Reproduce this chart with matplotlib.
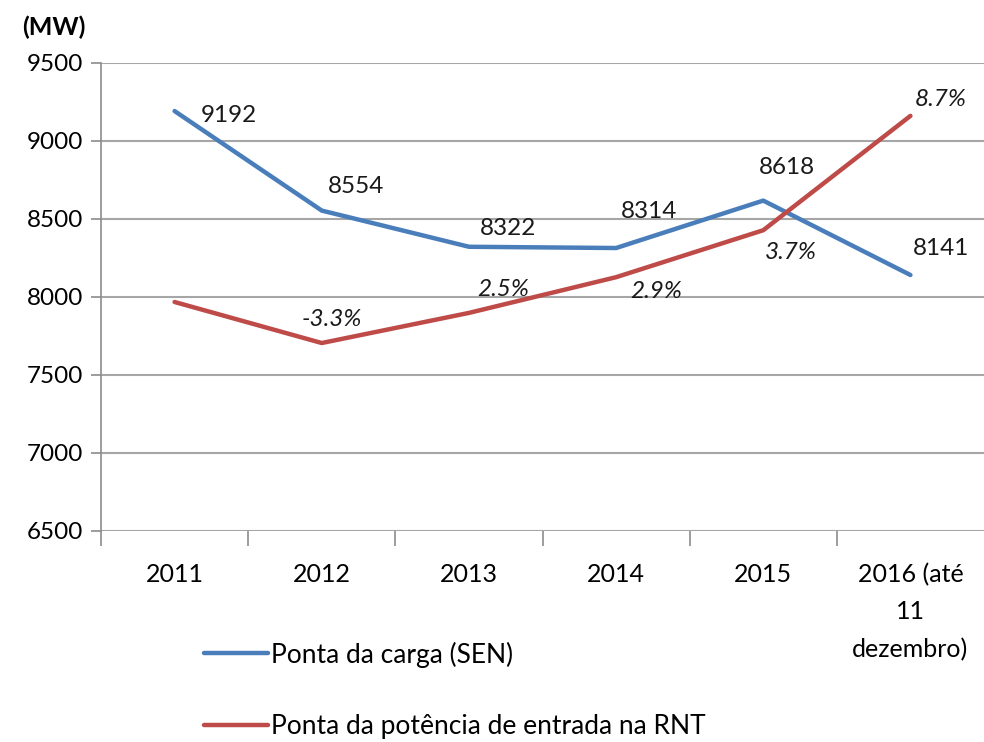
import matplotlib
matplotlib.use('Agg')
from matplotlib import pyplot as plt

plt.rcParams['font.family'] = ['Lato', 'DejaVu Sans']

anos = ['2011', '2012', '2013', '2014', '2015', '2016 (até\n11\ndezembro)']
ponta_carga = [9192, 8554, 8322, 8314, 8618, 8141]
ponta_rnt = [7968, 7705, 7898, 8127, 8428, 9161]
var_rnt = [None, '-3.3%', '2.5%', '2.9%', '3.7%', '8.7%']

azul = '#4a7ebb'
vermelho = '#be4b48'

fig = plt.figure(figsize=(9.84, 7.42), dpi=100)
ax = fig.add_axes([101 / 984, 1 - 531 / 742, 1 - 101 / 984, (531 - 63) / 742])

x = list(range(len(anos)))
ax.plot(x, ponta_carga, color=azul, lw=3.2, solid_capstyle='round', zorder=3,
        label='Ponta da carga (SEN)')
ax.plot(x, ponta_rnt, color=vermelho, lw=3.2, solid_capstyle='round', zorder=3,
        label='Ponta da potência de entrada na RNT')

# deslocamentos dos rótulos em pontos
off_carga = [(39, -3), (25, 17), (28, 13), (24, 26), (17, 24), (22, 19)]
off_rnt = [None, (7, 17), (25, 17), (29, -10), (20, -16), (22, 12)]

for i, v in enumerate(ponta_carga):
    ax.annotate(str(v), (i, v), xytext=off_carga[i], textcoords='offset points',
                ha='center', va='center', fontsize=17.5, color='#1a1a1a', zorder=4)
for i, v in enumerate(ponta_rnt):
    if var_rnt[i] is None:
        continue
    ax.annotate(var_rnt[i], (i, v), xytext=off_rnt[i], textcoords='offset points',
                ha='center', va='center', fontsize=17.5, style='italic',
                color='#1a1a1a', zorder=4)

ax.set_xlim(-0.5, len(anos) - 0.5)
ax.set_ylim(6500, 9500)
ax.set_yticks(range(6500, 9501, 500))
ax.set_xticks([i - 0.5 for i in range(len(anos))], minor=False)
ax.set_xticklabels([])
ax.set_xticks(x, minor=True)
ax.set_xticklabels(anos, minor=True, fontsize=18, linespacing=1.75, va='top')
ax.tick_params(axis='x', which='major', length=11, width=1.2, color='#8c8c8c')
ax.tick_params(axis='x', which='minor', length=0, pad=23)
ax.tick_params(axis='y', length=7, width=1.2, color='#8c8c8c', labelsize=17.5, pad=6)

ax.grid(axis='y', color='#a6a6a6', lw=1.5)
ax.set_axisbelow(True)
for s in ['top', 'right', 'bottom']:
    ax.spines[s].set_visible(False)
ax.spines['left'].set_color('#8c8c8c')
ax.spines['left'].set_linewidth(1.2)

fig.text(22 / 984, 1 - 27 / 742, '(MW)', fontsize=18, fontweight='bold', va='center')

fig.legend(loc='upper left', bbox_to_anchor=(193 / 984, 1 - 631 / 742), frameon=False,
           fontsize=19, handlelength=2.45, handletextpad=0.1, labelspacing=1.75,
           borderaxespad=0)

fig.savefig('out.png', dpi=100)
